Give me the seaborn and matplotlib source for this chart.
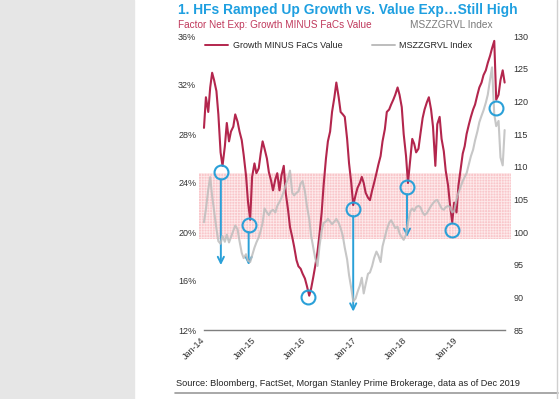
import pandas as pd
import seaborn as sns
import matplotlib.pyplot as plt
import matplotlib.dates as mdates
from matplotlib.lines import Line2D

# semi-monthly readings, Jan-14 .. Dec-19
growth_minus_value = [
    28.5, 31.0, 29.8, 31.8, 33.0, 32.4, 31.5, 29.6, 26.5, 25.4, 27.0, 28.9,
    27.4, 28.2, 28.6, 29.6, 29.0, 28.2, 27.5, 26.3, 24.6, 22.5, 21.0, 24.5,
    25.6, 24.8, 25.2, 26.4, 27.4, 26.8, 26.0, 24.9, 24.2, 23.4, 24.3, 24.8,
    23.4, 24.6, 25.4, 23.2, 21.8, 20.4, 19.6, 18.8, 17.7, 17.2, 17.0, 16.6,
    16.2, 15.6, 14.8, 15.4, 16.3, 17.2, 18.4, 19.8, 21.6, 23.8, 26.0, 27.4,
    28.2, 29.8, 31.0, 32.2, 31.0, 29.8, 29.6, 29.4, 27.6, 25.6, 24.0, 22.2,
    23.0, 23.6, 24.0, 24.5, 24.0, 23.2, 22.8, 22.6, 23.4, 24.0, 24.8, 25.5,
    26.2, 27.4, 28.4, 29.8, 30.0, 30.4, 30.8, 31.2, 31.8, 31.2, 30.2, 28.0,
    26.2, 24.0, 26.0, 27.6, 27.2, 26.5, 26.8, 28.0, 29.3, 30.0, 30.6, 31.0,
    30.0, 28.6, 25.4, 28.8, 29.4, 27.6, 26.6, 25.0, 23.8, 22.2, 20.8, 22.4,
    21.6, 23.8, 25.2, 26.4, 27.0, 28.0, 28.8, 29.4, 30.0, 30.4, 31.2, 31.8,
    32.2, 32.8, 33.2, 33.8, 34.4, 35.0, 35.6, 30.8, 31.2, 32.4, 33.2, 32.2,
]
mszzgrvl = [
    101.5, 103.5, 106.5, 108.4, 105.5, 103.2, 100.5, 98.6, 98.2, 99.4, 98.5, 99.6,
    98.4, 99.2, 100.2, 101.0, 100.4, 98.6, 96.8, 96.0, 96.6, 95.6, 95.4, 96.4,
    97.6, 98.4, 99.2, 100.2, 101.4, 103.6, 103.0, 102.6, 103.2, 103.4, 103.0, 104.0,
    104.6, 105.2, 106.2, 107.2, 108.2, 109.4, 106.0, 105.6, 106.0, 106.2, 107.4, 107.8,
    106.2, 104.0, 102.0, 99.4, 97.6, 96.0, 94.8, 97.8, 100.2, 101.4, 101.6, 102.0,
    101.6, 101.2, 101.6, 102.0, 101.4, 100.6, 99.4, 97.6, 95.8, 93.4, 91.4, 89.4,
    89.8, 90.8, 91.8, 93.0, 90.6, 92.0, 93.6, 93.8, 94.8, 96.0, 97.0, 96.4,
    95.4, 97.8, 99.2, 100.4, 101.4, 101.8, 101.2, 100.6, 100.8, 99.8, 99.2, 98.8,
    99.6, 101.4, 103.2, 103.6, 103.2, 103.8, 104.0, 103.8, 103.0, 102.6, 102.9, 103.4,
    104.0, 104.4, 104.8, 104.9, 104.2, 103.6, 103.4, 103.8, 104.0, 103.8, 103.0, 103.2,
    105.0, 106.0, 107.0, 107.8, 108.4, 109.0, 110.4, 111.6, 112.6, 114.0, 115.4, 116.8,
    117.8, 118.6, 119.8, 121.0, 123.4, 125.2, 118.0, 116.2, 117.0, 111.4, 110.2, 115.6,
]
dates = pd.date_range('2014-01-01', periods=len(growth_minus_value), freq='SMS')

year_ticks = ['2014-01-01', '2015-01-01', '2016-01-01', '2017-01-01', '2018-01-01', '2019-01-01']
year_labels = ['Jan-14', 'Jan-15', 'Jan-16', 'Jan-17', 'Jan-18', 'Jan-19']

# highlighted band (left axis %)
band = (19.4, 24.8)

# blue circles: date, level, where the arrow ends (None = no arrow)
circle_dates = ['2014-05-03', '2014-11-20', '2016-01-22', '2016-12-15', '2018-01-08', '2018-11-26', '2019-10-12']
circle_vals = [24.9, 20.6, 14.7, 21.9, 23.7, 20.2, 30.1]
arrow_ends = [17.3, 17.3, None, 13.5, 19.6, None, None]

df = pd.DataFrame({'date': dates, 'growth': growth_minus_value, 'index': mszzgrvl})

RED = '#b3264d'
GREY = '#bdbdbd'
BLUE = '#2aa0d8'

sns.set_style('white')
plt.rcParams['font.family'] = ['Liberation Sans', 'DejaVu Sans']
plt.rcParams['hatch.linewidth'] = 0.6
plt.rcParams['hatch.color'] = '#fde9ea'

fig = plt.figure(figsize=(5.6, 3.99), dpi=100)
fig.patches.append(plt.Rectangle((0, 0), 134 / 560, 1, transform=fig.transFigure,
                                 color='#e6e6e6', zorder=-1))

ax = fig.add_axes([199 / 560, 69 / 399, 312 / 560, 294 / 399])
ax2 = ax.twinx()

ax.axhspan(band[0], band[1], facecolor='#f9c7cb', edgecolor='#fde9ea', hatch='++++++',
           linewidth=0, zorder=0)

sns.lineplot(data=df, x='date', y='growth', ax=ax, color=RED, linewidth=1.5, zorder=2)
sns.lineplot(data=df, x='date', y='index', ax=ax2, color=GREY, linewidth=1.5, alpha=0.85, zorder=2)

start = pd.Timestamp('2014-01-01')
ax.set_xlim(start - pd.Timedelta(days=36), start + pd.Timedelta(days=2220))
ax.set_ylim(12, 36)
ax2.set_ylim(85, 130)
ax.set_yticks(range(12, 37, 4))
ax.set_yticklabels([f'{v}%' for v in range(12, 37, 4)])
ax2.set_yticks(range(85, 131, 5))

ax.set_xticks(pd.to_datetime(year_ticks))
ax.set_xticklabels(year_labels, rotation=45, ha='right', rotation_mode='anchor', va='center')

for a in (ax, ax2):
    a.set_xlabel('')
    a.set_ylabel('')
    for s in a.spines.values():
        s.set_visible(False)
    a.tick_params(length=0, labelsize=6.5, colors='#333333', pad=2)
ax.tick_params(axis='x', pad=6)
ax.spines['bottom'].set_visible(True)
ax.spines['bottom'].set_color('#7f7f7f')
ax.spines['bottom'].set_linewidth(1)
ax.spines['bottom'].set_bounds(mdates.date2num(start), mdates.date2num(pd.Timestamp('2019-12-18')))

for d, v, e in zip(circle_dates, circle_vals, arrow_ends):
    d = pd.Timestamp(d)
    ax2.plot([d], [85 + (v - 12) * 45 / 24], marker='o', markersize=10, markerfacecolor='none',
             markeredgecolor=BLUE, markeredgewidth=1.5, zorder=5)
    if e is not None:
        ax.annotate('', xy=(d, e), xytext=(d, v - 0.6),
                    arrowprops=dict(arrowstyle='->', color=BLUE, lw=1.4,
                                    shrinkA=0, shrinkB=0, mutation_scale=11))

handles = [Line2D([], [], color=RED, lw=1.4), Line2D([], [], color=GREY, lw=1.4)]
fig.legend(handles, ['Growth MINUS FaCs Value', 'MSZZGRVL Index'], ncol=2, frameon=False,
           loc='center left', bbox_to_anchor=(205 / 560, 1 - 46 / 399), fontsize=6.5,
           handlelength=2.6, handletextpad=0.5, columnspacing=3.2, borderpad=0, borderaxespad=0)

fig.text(178 / 560, 1 - 10 / 399, '1. HFs Ramped Up Growth vs. Value Exp\u2026Still High',
         color='#1e9fe0', fontsize=9.9, fontweight='bold', va='center', ha='left')
fig.text(178 / 560, 1 - 25 / 399, 'Factor Net Exp: Growth MINUS FaCs Value',
         color='#c0395c', fontsize=7.2, va='center', ha='left')
fig.text(410 / 560, 1 - 25 / 399, 'MSZZGRVL Index', color='#7a7a7a', fontsize=7.3,
         va='center', ha='left')
fig.text(176 / 560, 1 - 383 / 399,
         'Source: Bloomberg, FactSet, Morgan Stanley Prime Brokerage, data as of Dec 2019',
         color='#222222', fontsize=6.6, va='center', ha='left')
fig.add_artist(Line2D([175 / 560, 558 / 560], [1 - 393 / 399] * 2, color='#9a9a9a', lw=1.2))
fig.add_artist(Line2D([557 / 560] * 2, [0, 1], color='#d0d0d0', lw=1))

fig.savefig('out.png', dpi=100)
